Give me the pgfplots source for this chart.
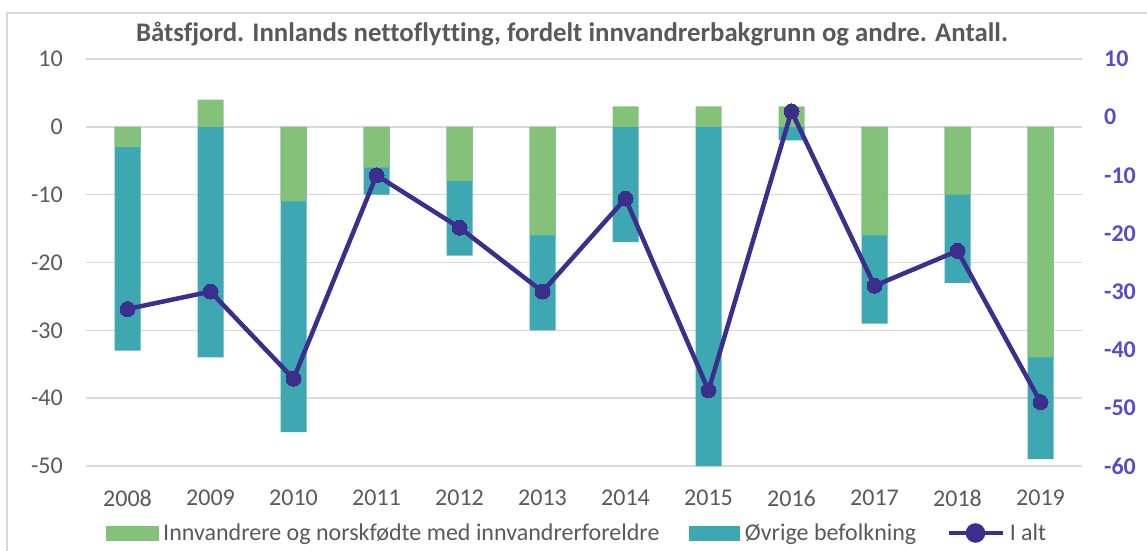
\documentclass[border=0pt]{standalone}
\usepackage{fontspec}
\setmainfont{Carlito}[Ligatures=NoCommon]
\usepackage{pgfplots}
\usepackage{pgfplotstable}
\pgfplotsset{compat=1.18}
\definecolor{cgreen}{RGB}{132,193,121}
\definecolor{cteal}{RGB}{62,168,178}
\definecolor{cline}{RGB}{59,46,140}
\definecolor{cright}{RGB}{92,76,196}
\definecolor{ctext}{RGB}{89,89,89}
\definecolor{cgrid}{RGB}{217,217,217}
% innv = Innvandrere og norskfodte..., ovrig = Ovrige befolkning,
% ovrbar = lower end of the Ovrige bar (stacked below negative innv), ialt = I alt
\pgfplotstableread{
x innv ovrig ovrbar ialt
0  -3  -30 -33 -33
1   4  -34 -34 -30
2 -11  -34 -45 -45
3  -6   -4 -10 -10
4  -8  -11 -19 -19
5 -16  -14 -30 -30
6   3  -17 -17 -14
7   3  -50 -50 -47
8   3   -2  -2   1
9 -16  -13 -29 -29
10 -10 -13 -23 -23
11 -34 -15 -49 -49
}\datatable
\begin{document}
\begin{tikzpicture}
\useasboundingbox (0pt,0pt) rectangle (1147pt,550pt);
\draw[cgrid, line width=1.5pt] (7pt,-5pt) -- (7pt,537pt) -- (1160pt,537pt);
\node[font=\fontsize{26.8}{31}\selectfont\bfseries, text=ctext] at (572pt,516pt) {Båtsfjord. Innlands nettoflytting, fordelt innvandrerbakgrunn og andre. Antall.};
\begin{axis}[
  at={(86pt,84pt)}, anchor=south west,
  scale only axis, width=996pt, height=407pt,
  xmin=-0.5, xmax=11.5, ymin=-50, ymax=10,
  ytick={-50,-40,...,10},
  xtick={0,...,11},
  xticklabels={2008,2009,2010,2011,2012,2013,2014,2015,2016,2017,2018,2019},
  axis line style={draw=none},
  major tick length=0pt,
  ymajorgrids, grid style={cgrid, line width=1.5pt},
  tick label style={font=\fontsize{24}{28}\selectfont, text=ctext, inner sep=0pt},
  xticklabel style={yshift=-24pt},
  yticklabel style={xshift=-23pt},
  /pgf/number format/assume math mode=true,
  ybar, bar width=26pt, bar shift=0pt,
]
\addplot[fill=cteal, draw=none] table[x=x, y=ovrbar] {\datatable};
\addplot[fill=cgreen, draw=none] table[x=x, y=innv] {\datatable};
\end{axis}
\begin{axis}[
  at={(86pt,84pt)}, anchor=south west,
  scale only axis, width=996pt, height=407pt,
  xmin=-0.5, xmax=11.5, ymin=-60, ymax=10,
  ytick={-60,-50,...,10},
  axis x line=none,
  axis y line*=right,
  axis line style={draw=none},
  major tick length=0pt,
  yticklabel style={font=\fontsize{24}{28}\selectfont\bfseries, text=cright, inner sep=0pt, xshift=22pt},
  /pgf/number format/assume math mode=true,
  legend style={at={(0.492,-0.1646)}, anchor=center, draw=none, fill=none,
    font=\fontsize{24}{28}\selectfont, text=ctext,
    legend columns=3,
    nodes={inner sep=0pt},
    /tikz/every odd column/.append style={column sep=5pt},
    /tikz/every even column/.append style={column sep=30pt}},
  legend cell align=left,
]
\addlegendimage{legend image code/.code={\fill[cgreen] (0pt,-7pt) rectangle (52pt,7pt);}}
\addlegendentry{Innvandrere og norskfødte med innvandrerforeldre}
\addlegendimage{legend image code/.code={\fill[cteal] (0pt,-7pt) rectangle (50pt,7pt);}}
\addlegendentry{Øvrige befolkning}
\addplot[cline, line width=4.5pt, mark=*, mark size=7.5pt, mark options={fill=cline, draw=cline, line width=0pt},
  legend image code/.code={\draw[cline, line width=4.5pt] (0pt,0pt) -- (54pt,0pt); \fill[cline] (27pt,0pt) circle (7.5pt);}]
  table[x=x, y=ialt] {\datatable};
\addlegendentry{I alt}
\end{axis}
\end{tikzpicture}
\end{document}
